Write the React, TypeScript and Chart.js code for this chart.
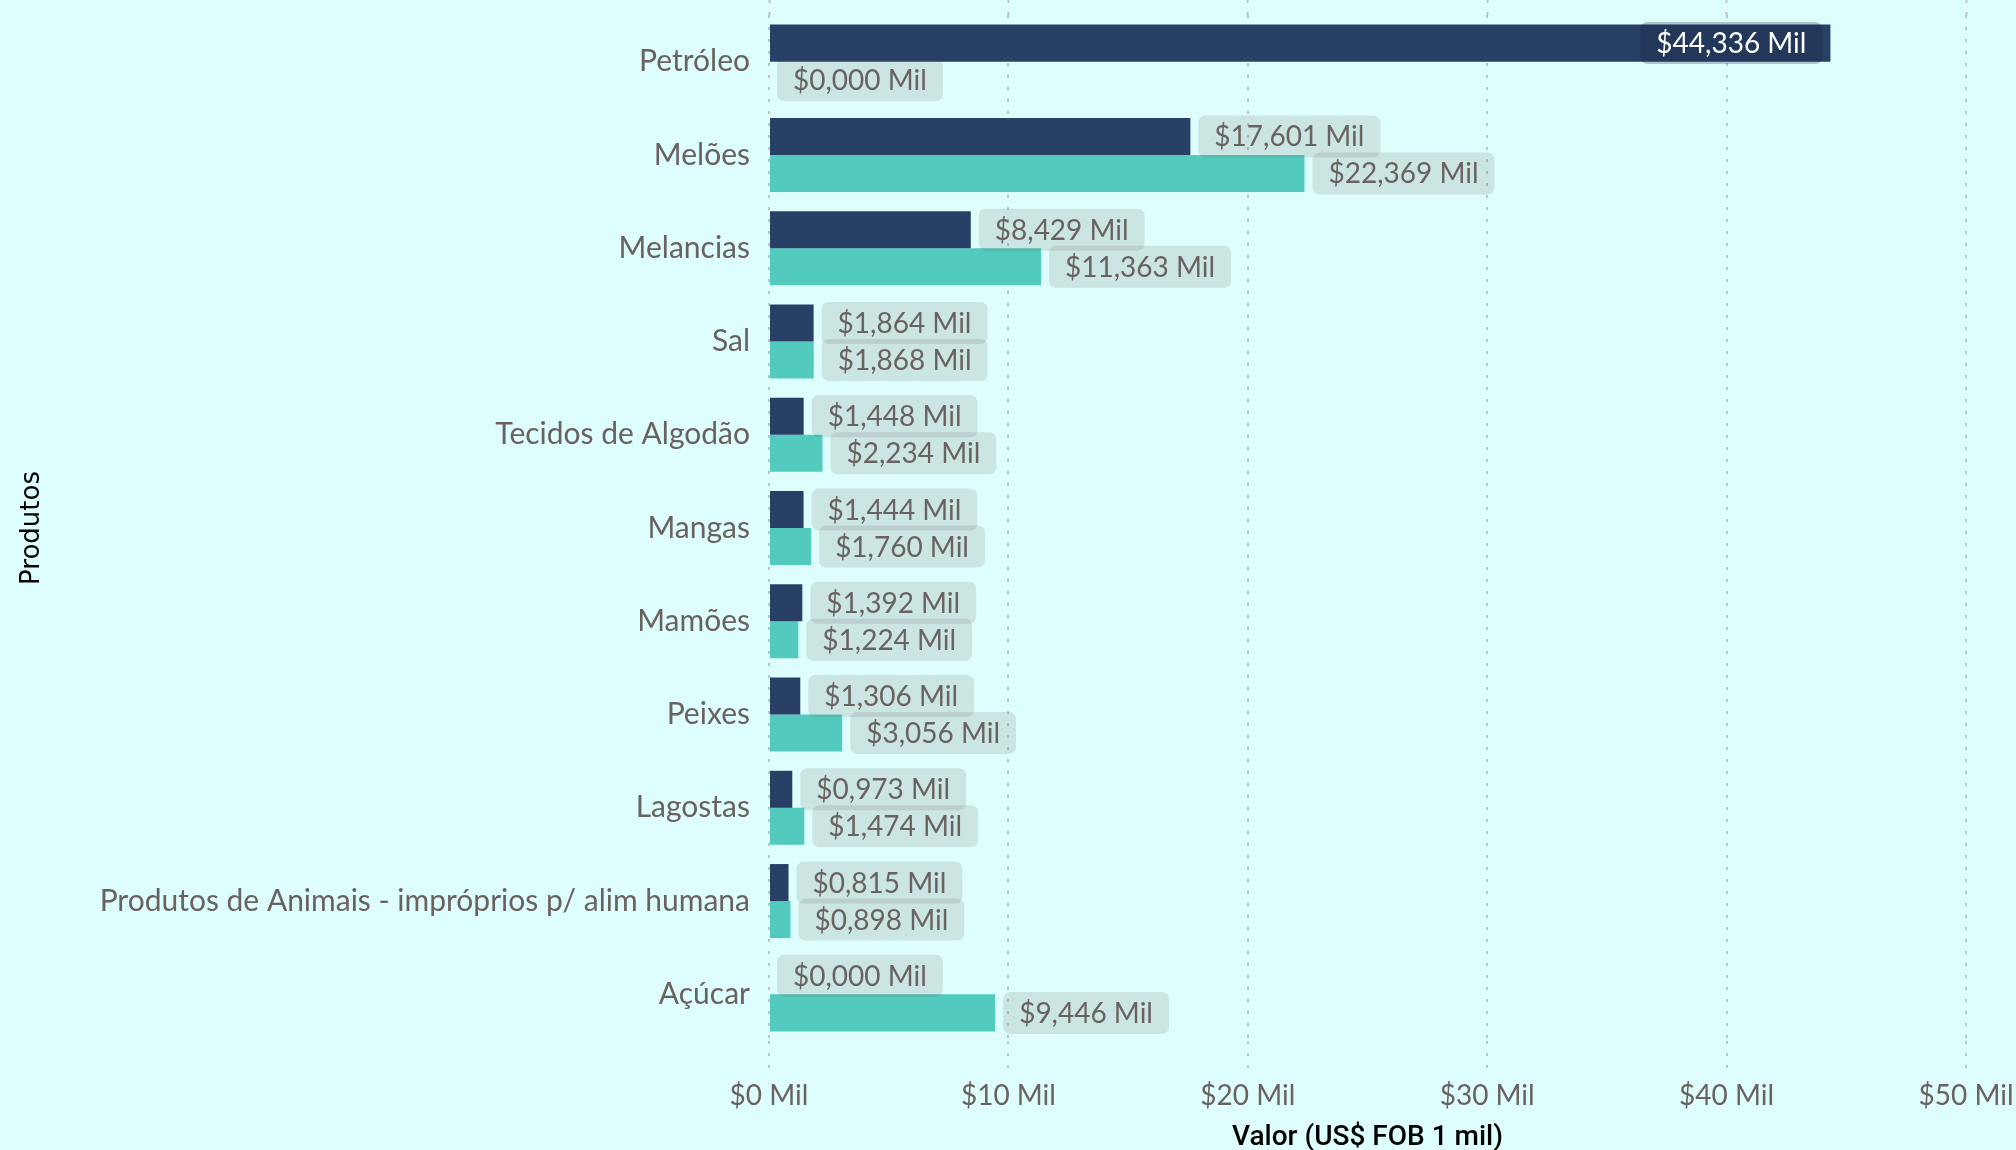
import React, { useEffect, useRef } from "react";
import { Chart, registerables } from "chart.js";

Chart.register(...registerables);

const categories = [
  "Petróleo",
  "Melões",
  "Melancias",
  "Sal",
  "Tecidos de Algodão",
  "Mangas",
  "Mamões",
  "Peixes",
  "Lagostas",
  "Produtos de Animais - impróprios p/ alim humana",
  "Açúcar",
];

const seriesDark = [44.336, 17.601, 8.429, 1.864, 1.448, 1.444, 1.392, 1.306, 0.973, 0.815, 0.0];
const seriesTeal = [0.0, 22.369, 11.363, 1.868, 2.234, 1.76, 1.224, 3.056, 1.474, 0.898, 9.446];

const xTickValues = [0, 10, 20, 30, 40, 50];
const xTitle = "Valor (US$ FOB 1 mil)";
const yTitle = "Produtos";

const BG = "#DDFEFC";
const TEXT_GRAY = "#6A6260";
const GRID = "rgba(150,140,140,0.5)";

const fmt = (v: number) => "$" + v.toFixed(3).replace(".", ",") + " Mil";

const bgPlugin = {
  id: "bgFill",
  beforeDraw(chart: any) {
    const { ctx, width, height } = chart;
    ctx.save();
    ctx.fillStyle = BG;
    ctx.fillRect(0, 0, width, height);
    ctx.restore();
  },
};

const labelPlugin = {
  id: "valueLabels",
  afterDatasetsDraw(chart: any) {
    const ctx = chart.ctx;
    const area = chart.chartArea;
    ctx.save();
    ctx.font = "28px Lato";
    chart.data.datasets.forEach((ds: any, di: number) => {
      const meta = chart.getDatasetMeta(di);
      meta.data.forEach((bar: any, i: number) => {
        const v = ds.data[i] as number;
        const text = fmt(v);
        const tw = ctx.measureText(text).width;
        const padX = 16;
        const boxH = 42;
        const gap = 8;
        const bw = tw + padX * 2;
        const { x, y } = bar.getProps(["x", "y"], true);
        let bx = x + gap;
        let inside = false;
        if (bx + bw > area.right) {
          bx = x - gap - bw;
          inside = true;
        }
        ctx.fillStyle = inside ? "rgba(20,30,60,0.25)" : "rgba(102,88,87,0.15)";
        ctx.beginPath();
        ctx.roundRect(bx, y - boxH / 2, bw, boxH, 7);
        ctx.fill();
        ctx.fillStyle = inside ? "#FFFFFF" : TEXT_GRAY;
        ctx.textAlign = "left";
        ctx.textBaseline = "middle";
        ctx.fillText(text, bx + padX, y + 1);
      });
    });
    ctx.restore();
  },
};

export default function App() {
  const ref = useRef<HTMLCanvasElement | null>(null);

  useEffect(() => {
    if (!ref.current) return;
    const chart = new Chart(ref.current, {
      type: "bar",
      data: {
        labels: categories,
        datasets: [
          {
            label: "Série 1",
            data: seriesDark,
            backgroundColor: "#283F66",
            borderWidth: 0,
            categoryPercentage: 0.794,
            barPercentage: 1.0,
            xAxisID: "x",
          },
          {
            label: "Série 2",
            data: seriesTeal,
            backgroundColor: "#52CBBE",
            borderWidth: 0,
            categoryPercentage: 0.794,
            barPercentage: 1.0,
            xAxisID: "x",
          },
        ],
      },
      options: {
        indexAxis: "y",
        responsive: false,
        animation: false,
        maintainAspectRatio: false,
        layout: { padding: { left: 0, right: 50, top: 0, bottom: 0 } },
        plugins: {
          legend: { display: false },
          tooltip: { enabled: false },
        },
        scales: {
          x: {
            type: "linear",
            position: "bottom",
            min: xTickValues[0],
            max: xTickValues[xTickValues.length - 1],
            afterBuildTicks: (s: any) => {
              s.ticks = xTickValues.map((v) => ({ value: v }));
            },
            ticks: {
              color: TEXT_GRAY,
              font: { family: "Lato", size: 28 },
              padding: 7,
              callback: (v: any) => `$${v} Mil`,
            },
            grid: {
              color: GRID,
              lineWidth: 2,
              drawTicks: true,
              tickLength: 31,
              tickColor: GRID,
              tickWidth: 2,
              tickBorderDash: [3, 9],
            },
            border: { display: false, dash: [3, 9] },
            title: {
              display: true,
              text: xTitle,
              color: "#000000",
              font: { family: "Roboto", size: 28, weight: "500", lineHeight: 1.2 },
              padding: { top: 0, bottom: -5 },
            },
            afterFit: (s: any) => {
              s.height = 109;
              s.paddingLeft = 0;
              s.paddingRight = 0;
            },
          },
          x2: {
            type: "linear",
            position: "top",
            min: xTickValues[0],
            max: xTickValues[xTickValues.length - 1],
            afterBuildTicks: (s: any) => {
              s.ticks = xTickValues.map((v) => ({ value: v }));
            },
            ticks: { display: false },
            grid: {
              drawOnChartArea: false,
              drawTicks: true,
              tickLength: 15,
              tickColor: GRID,
              tickWidth: 2,
              tickBorderDash: [3, 9],
            },
            border: { display: false },
            afterFit: (s: any) => {
              s.height = 15;
              s.paddingLeft = 0;
              s.paddingRight = 0;
            },
          },
          y: {
            type: "category",
            position: "left",
            offset: true,
            grid: { display: false },
            border: { display: false },
            ticks: {
              color: TEXT_GRAY,
              font: { family: "Lato", size: 30 },
              padding: 11,
              autoSkip: false,
            },
            title: {
              display: true,
              text: yTitle,
              color: "#000000",
              font: { family: "DejaVu Sans", size: 26 },
              padding: { top: 17, bottom: 0 },
            },
            afterFit: (s: any) => {
              s.width = 769;
              s.paddingTop = 0;
              s.paddingBottom = 0;
            },
          },
        },
      } as any,
      plugins: [bgPlugin, labelPlugin],
    });
    return () => chart.destroy();
  }, []);

  return (
    <div
      style={{
        position: "fixed",
        left: 0,
        top: 0,
        width: 2016,
        height: 1150,
        background: BG,
      }}
    >
      <canvas ref={ref} width={2016} height={1150} style={{ display: "block" }} />
    </div>
  );
}
